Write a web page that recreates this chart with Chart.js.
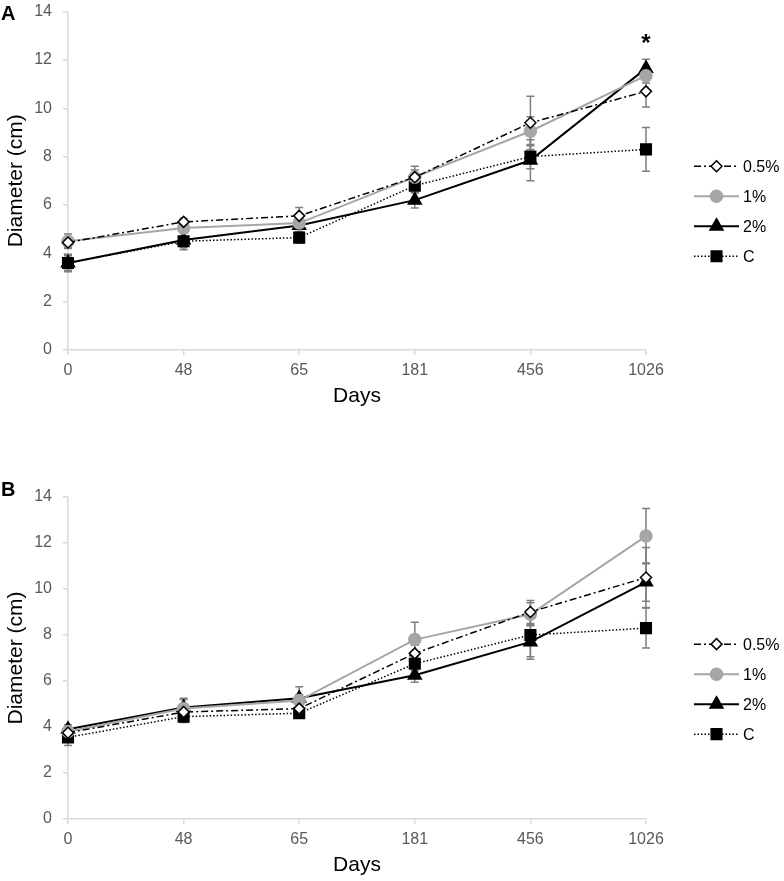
<!DOCTYPE html>
<html>
<head>
<meta charset="utf-8">
<script src="https://cdn.jsdelivr.net/npm/chart.js@4.4.1/dist/chart.umd.min.js"></script>
<style>
  body { margin: 0; background: #fff; overflow: hidden; }
  #wrap { position: relative; width: 784px; height: 881px; overflow: hidden; }
  canvas { position: absolute; left: 0; }
</style>
</head>
<body>
<div id="wrap">
  <canvas id="chartA" width="784" height="449" style="top:-9px"></canvas>
  <canvas id="chartB" width="784" height="441" style="top:440px"></canvas>
</div>
<script>
// x categories (days)
const days = ['0', '48', '65', '181', '456', '1026'];
const seriesNames = ['0.5%', '1%', '2%', 'C'];

// panel A, means
const a05 = [4.45, 5.3, 5.55, 7.15, 9.4, 10.7];
const a1  = [4.5, 5.05, 5.25, 7.15, 9.05, 11.35];
const a2  = [3.6, 4.55, 5.15, 6.2, 7.85, 11.65];
const aC  = [3.6, 4.5, 4.65, 6.8, 8.0, 8.3];
// panel A, error (+/-)
const a05Err = [0.2, 0.15, 0.35, 0.3, 1.1, 0.65];
const a1Err  = [0.3, 0.2, 0.2, 0.45, 0.6, 0.3];
const a2Err  = [0.36, 0.32, 0.25, 0.33, 0.85, 0.38];
const aCErr  = [0.3, 0.35, 0.22, 0.3, 0.5, 0.9];

// panel B, means
const b05 = [3.75, 4.65, 4.8, 7.2, 9.0, 10.5];
const b1  = [3.8, 4.8, 5.15, 7.8, 8.9, 12.3];
const b2  = [3.9, 4.85, 5.25, 6.25, 7.7, 10.3];
const bC  = [3.55, 4.45, 4.6, 6.75, 8.0, 8.3];
// panel B, error (+/-)
const b05Err = [0.2, 0.2, 0.2, 0.35, 0.5, 1.3];
const b1Err  = [0.2, 0.4, 0.25, 0.75, 0.5, 1.2];
const b2Err  = [0.2, 0.4, 0.5, 0.3, 0.75, 0.83];
const bCErr  = [0.35, 0.25, 0.2, 0.3, 0.95, 0.87];

const yTicks = [0, 2, 4, 6, 8, 10, 12, 14];

const FONT = "'Liberation Sans', Arial, sans-serif";

const styles = [
  { color: '#000', dash: [7, 3, 2, 3], width: 1.5, point: 'rectRot', radius: 5.5, fill: '#fff' },
  { color: '#a6a6a6', dash: [], width: 2, point: 'circle', radius: 6, fill: '#a6a6a6' },
  { color: '#000', dash: [], width: 2, point: 'triangle', radius: 7.5, fill: '#000' },
  { color: '#000', dash: [1.5, 2], width: 1.5, point: 'rect', radius: 7.5, fill: '#000' }
];

function marker(ctx, st, x, y) {
  const r = st.radius;
  ctx.save();
  ctx.setLineDash([]);
  ctx.fillStyle = st.fill;
  ctx.strokeStyle = st.color;
  ctx.lineWidth = 1.5;
  ctx.beginPath();
  if (st.point === 'circle') {
    ctx.arc(x, y, r, 0, Math.PI * 2);
  } else if (st.point === 'rectRot') {
    ctx.moveTo(x, y - r); ctx.lineTo(x + r, y); ctx.lineTo(x, y + r); ctx.lineTo(x - r, y);
    ctx.closePath();
  } else if (st.point === 'triangle') {
    ctx.moveTo(x, y - r);
    ctx.lineTo(x + r * Math.sin(Math.PI * 2 / 3), y - r * Math.cos(Math.PI * 2 / 3));
    ctx.lineTo(x - r * Math.sin(Math.PI * 2 / 3), y - r * Math.cos(Math.PI * 2 / 3));
    ctx.closePath();
  } else {
    const s = r * Math.SQRT1_2;
    ctx.rect(x - s, y - s, 2 * s, 2 * s);
  }
  ctx.fill();
  ctx.stroke();
  ctx.restore();
}

const errorBars = {
  id: 'errorBars',
  beforeDatasetsDraw(chart, args, opts) {
    const { ctx, scales: { x, y } } = chart;
    ctx.save();
    ctx.strokeStyle = '#7f7f7f';
    ctx.lineWidth = 1.5;
    opts.errors.forEach((errs, d) => {
      const vals = chart.data.datasets[d].data;
      errs.forEach((e, i) => {
        const px = x.getPixelForValue(i);
        const t = y.getPixelForValue(vals[i] + e);
        const b = y.getPixelForValue(vals[i] - e);
        ctx.beginPath();
        ctx.moveTo(px, t); ctx.lineTo(px, b);
        ctx.moveTo(px - 4, t); ctx.lineTo(px + 4, t);
        ctx.moveTo(px - 4, b); ctx.lineTo(px + 4, b);
        ctx.stroke();
      });
    });
    ctx.restore();
  },
  afterDraw(chart, args, opts) {
    const { ctx, chartArea, scales: { x, y } } = chart;
    ctx.save();
    // panel letter
    ctx.fillStyle = '#000';
    ctx.font = 'bold 20px ' + FONT;
    ctx.textBaseline = 'middle';
    ctx.textAlign = 'left';
    ctx.fillText(opts.panel, 1, opts.panelY);
    // significance star
    if (opts.star != null) {
      const i = opts.star;
      let top = 0;
      opts.errors.forEach((errs, d) => {
        top = Math.max(top, chart.data.datasets[d].data[i] + errs[i]);
      });
      ctx.font = 'bold 24px ' + FONT;
      ctx.textAlign = 'center';
      ctx.textBaseline = 'alphabetic';
      ctx.fillText('*', x.getPixelForValue(i), y.getPixelForValue(top) - 8);
    }
    // legend
    const lx0 = 694, lx1 = 739;
    let ly = chartArea.top + chartArea.height * 0.457;
    seriesNames.forEach((name, k) => {
      const st = styles[k];
      ctx.strokeStyle = st.color;
      ctx.lineWidth = st.width;
      ctx.setLineDash(st.dash);
      ctx.beginPath();
      ctx.moveTo(lx0, ly); ctx.lineTo(lx1, ly);
      ctx.stroke();
      marker(ctx, st, (lx0 + lx1) / 2, ly);
      ctx.setLineDash([]);
      ctx.fillStyle = '#000';
      ctx.font = '16px ' + FONT;
      ctx.textAlign = 'left';
      ctx.textBaseline = 'middle';
      ctx.fillText(name, 743, ly + 1);
      ly += 30;
    });
    ctx.restore();
  }
};

function makeChart(id, panel, panelY, series, errors, padTop, padBottom, star) {
  const datasets = series.map((vals, k) => ({
    label: seriesNames[k],
    data: vals,
    borderColor: styles[k].color,
    borderWidth: styles[k].width,
    borderDash: styles[k].dash,
    backgroundColor: styles[k].fill,
    pointStyle: styles[k].point,
    pointRadius: styles[k].radius,
    pointBorderWidth: 1.5,
    pointBorderColor: styles[k].color,
    pointBackgroundColor: styles[k].fill,
    tension: 0,
    fill: false
  }));
  return new Chart(document.getElementById(id).getContext('2d'), {
    type: 'line',
    data: { labels: days, datasets: datasets },
    options: {
      responsive: false,
      animation: false,
      devicePixelRatio: 1,
      layout: { padding: { top: padTop, right: 138, bottom: padBottom, left: 0 } },
      plugins: {
        legend: { display: false },
        tooltip: { enabled: false },
        errorBars: { errors: errors, panel: panel, panelY: panelY, star: star }
      },
      scales: {
        x: {
          type: 'category',
          offset: false,
          grid: { drawOnChartArea: false, tickLength: 5, color: '#d9d9d9', lineWidth: 1.5 },
          border: { color: '#d9d9d9', width: 1.5 },
          ticks: { color: '#595959', font: { family: FONT, size: 16 }, padding: 6, maxRotation: 0, autoSkip: false },
          title: { display: true, text: 'Days', color: '#000', font: { family: FONT, size: 21 }, padding: 0 },
          afterFit(s) { s.height = 59; }
        },
        y: {
          min: 0,
          max: 14,
          afterBuildTicks(s) { s.ticks = yTicks.map(v => ({ value: v })); },
          grid: { drawOnChartArea: false, tickLength: 5, color: '#d9d9d9', lineWidth: 1.5 },
          border: { color: '#d9d9d9', width: 1.5 },
          ticks: { color: '#595959', font: { family: FONT, size: 16 }, padding: 11 },
          title: { display: true, text: 'Diameter (cm)', color: '#000', font: { family: FONT, size: 21 }, padding: { top: 4, bottom: 0 } },
          afterFit(s) { s.width = 68; }
        }
      }
    },
    plugins: [errorBars]
  });
}

// canvas A sits 9px above the page top, so page coordinates are canvas - 9
makeChart('chartA', 'A', 23, [a05, a1, a2, aC], [a05Err, a1Err, a2Err, aCErr], 0, 31, 5);
makeChart('chartB', 'B', 50, [b05, b1, b2, bC], [b05Err, b1Err, b2Err, bCErr], 57, 3, null);
</script>
</body>
</html>
